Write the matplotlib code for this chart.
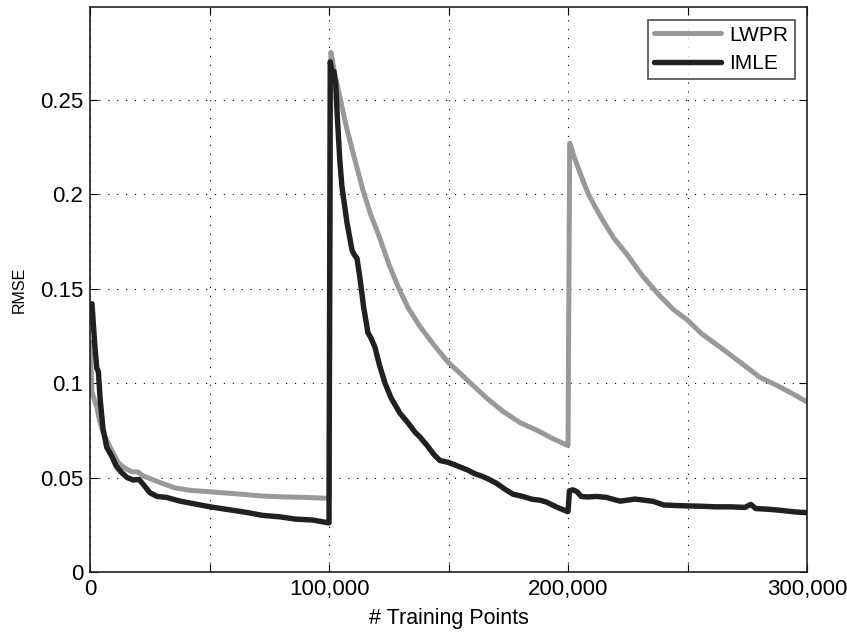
import numpy as np
import matplotlib
matplotlib.use('Agg')
from matplotlib import pyplot as plt
from matplotlib.ticker import FixedLocator, FixedFormatter

plt.rcParams['font.family'] = ['Liberation Sans', 'DejaVu Sans']

# LWPR curve (grey)
lwpr_x = [0, 800, 2900, 4000, 5400, 8400, 11700, 14500, 17500, 20000, 22000, 26000, 30000,
          35600, 42000, 50000, 57000, 65000, 72000, 80000, 90000, 99800,
          100000, 100800, 102500, 104600, 107000, 110000, 114200, 117500, 121300, 125000,
          128900, 133000, 138000, 144000, 149800, 155000, 160000, 166000, 172800, 180000,
          187000, 193000, 199800,
          200000, 200700, 202500, 204500, 206300, 208500, 211000, 214600, 219000, 224700,
          231000, 238500, 244000, 249800, 256000, 263600, 271000, 280300, 287000, 293000, 300000]
lwpr_y = [0.122, 0.095, 0.087, 0.080, 0.074, 0.066, 0.058, 0.055, 0.053, 0.053, 0.051, 0.049, 0.047,
          0.0445, 0.0432, 0.0425, 0.0418, 0.041, 0.0402, 0.0398, 0.0395, 0.039,
          0.039, 0.275, 0.263, 0.251, 0.237, 0.222, 0.202, 0.189, 0.1765, 0.163,
          0.151, 0.140, 0.130, 0.120, 0.111, 0.105, 0.099, 0.092, 0.085, 0.079,
          0.075, 0.071, 0.067,
          0.067, 0.227, 0.220, 0.213, 0.207, 0.200, 0.194, 0.186, 0.177, 0.168,
          0.157, 0.146, 0.139, 0.1335, 0.126, 0.119, 0.112, 0.103, 0.099, 0.095, 0.090]

# IMLE curve (black)
imle_x = [800, 2000, 2800, 3500, 4200, 5400, 7000, 9200, 11000, 13400, 15500, 18000, 20500,
          22500, 25000, 28000, 32000, 37700, 44000, 50200, 58000, 65700, 72000, 79500, 86000,
          93300, 99800,
          100000, 100500, 101300, 102000, 102800, 103500, 104500, 105400, 107500, 109600,
          110500, 111700, 113000, 114500, 116300, 117500, 119200, 121000, 123400, 126000,
          129700, 133000, 136000, 138000, 141000, 144000, 146400, 150000, 154800, 158000,
          161000, 164400, 167000, 170000, 174000, 177000, 181000, 185000, 188300, 191000,
          195000, 199800,
          200000, 200600, 202000, 203800, 205500, 208000, 212000, 216000, 221800, 228000,
          232000, 235600, 240000, 245000, 249800, 256000, 262000, 268000, 274000, 276500,
          278500, 284000, 290000, 295000, 300000]
imle_y = [0.142, 0.120, 0.108, 0.106, 0.092, 0.076, 0.066, 0.061, 0.056, 0.0524, 0.050, 0.0487, 0.049,
          0.046, 0.042, 0.040, 0.0395, 0.0375, 0.036, 0.0345, 0.033, 0.0315, 0.030, 0.0292, 0.028,
          0.0275, 0.026,
          0.026, 0.270, 0.264, 0.265, 0.258, 0.240, 0.218, 0.204, 0.185, 0.1705,
          0.168, 0.166, 0.155, 0.140, 0.1265, 0.124, 0.119, 0.110, 0.100, 0.092,
          0.084, 0.079, 0.074, 0.0715, 0.067, 0.062, 0.059, 0.058, 0.0556, 0.054,
          0.052, 0.0505, 0.049, 0.047, 0.0435, 0.0412, 0.040, 0.0385, 0.038, 0.037,
          0.0345, 0.032,
          0.032, 0.043, 0.0435, 0.0425, 0.0400, 0.0397, 0.040, 0.0395, 0.0375, 0.0386,
          0.038, 0.0374, 0.0355, 0.0352, 0.035, 0.0348, 0.0345, 0.0345, 0.0342, 0.0358,
          0.0336, 0.0332, 0.0325, 0.0318, 0.0314]

x_ticks = [0, 50000, 100000, 150000, 200000, 250000, 300000]
x_labels = ['0', '', '100,000', '', '200,000', '', '300,000']
y_ticks = [0, 0.05, 0.1, 0.15, 0.2, 0.25]
y_labels = ['0', '0.05', '0.1', '0.15', '0.2', '0.25']

fig = plt.figure(figsize=(8.47, 6.32), dpi=100)
ax = fig.add_axes([0.1063, 0.0949, 0.8465, 0.894])

ax.plot(lwpr_x, lwpr_y, color='#999999', linewidth=3.6, label='LWPR',
        solid_joinstyle='round', solid_capstyle='round')
ax.plot(imle_x, imle_y, color='#231f20', linewidth=3.9, label='IMLE',
        solid_joinstyle='round', solid_capstyle='round')

ax.set_xlim(0, 300000)
ax.set_ylim(0, 0.299)
ax.xaxis.set_major_locator(FixedLocator(x_ticks))
ax.xaxis.set_major_formatter(FixedFormatter(x_labels))
ax.yaxis.set_major_locator(FixedLocator(y_ticks))
ax.yaxis.set_major_formatter(FixedFormatter(y_labels))

ax.grid(True, color='black', linestyle=(0, (1, 7)), linewidth=0.8)
ax.tick_params(direction='in', length=6, width=0.8, top=True, right=True, labelsize=16, pad=5)
for s in ax.spines.values():
    s.set_linewidth(1.2)
    s.set_color('#231f20')

ax.set_xlabel('# Training Points', fontsize=15.5, labelpad=6)
ax.set_ylabel('RMSE', fontsize=11.5, labelpad=9)

leg = ax.legend(loc='upper right', fontsize=15, frameon=True, fancybox=False,
                edgecolor='#231f20', handlelength=3.2, handletextpad=0.4,
                borderpad=0.3, labelspacing=0.45, borderaxespad=0.6)
leg.get_frame().set_linewidth(1.2)

fig.savefig('out.png', dpi=100)
